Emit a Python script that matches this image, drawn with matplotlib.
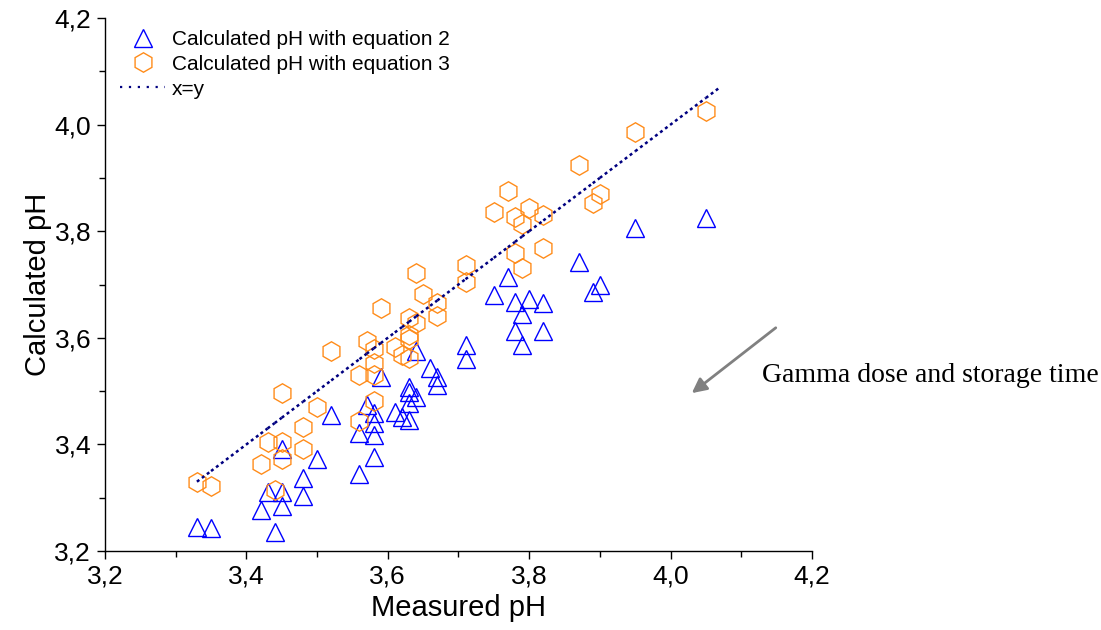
import matplotlib.pyplot as plt
from matplotlib.ticker import MultipleLocator

plt.rcParams['font.family'] = ['Liberation Sans', 'DejaVu Sans']

# equation 2 (triangles)
eq2_measured = [3.33, 3.35, 3.42, 3.43, 3.44, 3.45, 3.45, 3.45, 3.48, 3.48,
                3.50, 3.52, 3.56, 3.56, 3.57, 3.58, 3.58, 3.58, 3.58, 3.59,
                3.61, 3.62, 3.63, 3.63, 3.63, 3.63, 3.64, 3.64, 3.66, 3.67,
                3.67, 3.71, 3.71, 3.75, 3.77, 3.78, 3.78, 3.79, 3.79, 3.80,
                3.82, 3.82, 3.87, 3.89, 3.90, 3.95, 4.05]
eq2_calc = [3.245, 3.243, 3.277, 3.311, 3.236, 3.311, 3.284, 3.391, 3.337, 3.303,
            3.373, 3.455, 3.421, 3.344, 3.474, 3.459, 3.440, 3.418, 3.376, 3.526,
            3.461, 3.451, 3.446, 3.478, 3.498, 3.508, 3.489, 3.575, 3.543, 3.526,
            3.511, 3.587, 3.560, 3.680, 3.714, 3.667, 3.613, 3.645, 3.587, 3.673,
            3.665, 3.613, 3.742, 3.686, 3.700, 3.806, 3.825]

# equation 3 (hexagons)
eq3_measured = [3.33, 3.35, 3.42, 3.43, 3.44, 3.45, 3.45, 3.45, 3.48, 3.48,
                3.50, 3.52, 3.56, 3.56, 3.57, 3.58, 3.58, 3.58, 3.58, 3.59,
                3.61, 3.62, 3.63, 3.63, 3.63, 3.63, 3.64, 3.64, 3.65, 3.67,
                3.67, 3.71, 3.71, 3.75, 3.77, 3.78, 3.78, 3.79, 3.79, 3.80,
                3.82, 3.82, 3.87, 3.89, 3.90, 3.95, 4.05]
eq3_calc = [3.329, 3.322, 3.363, 3.404, 3.314, 3.496, 3.404, 3.373, 3.433, 3.391,
            3.470, 3.575, 3.530, 3.444, 3.594, 3.579, 3.553, 3.530, 3.482, 3.656,
            3.583, 3.568, 3.637, 3.605, 3.597, 3.562, 3.628, 3.722, 3.682, 3.665,
            3.641, 3.737, 3.705, 3.836, 3.875, 3.827, 3.759, 3.813, 3.731, 3.844,
            3.830, 3.768, 3.924, 3.853, 3.870, 3.987, 4.025]

# x=y line runs through the measured values, up to 4.07
line_x = sorted(set(eq2_measured)) + [4.07]

fig = plt.figure(figsize=(11.01, 6.30), dpi=100)
ax = fig.add_axes([0.0954, 0.1254, 0.642, 0.846])

ax.plot(eq2_measured, eq2_calc, linestyle='none', marker='^', markersize=13,
        markerfacecolor='none', markeredgecolor='#0000FF', markeredgewidth=1.0,
        label='Calculated pH with equation 2')
ax.plot(eq3_measured, eq3_calc, linestyle='none', marker='h', markersize=14,
        markerfacecolor='none', markeredgecolor='#FF8C1A', markeredgewidth=1.0,
        label='Calculated pH with equation 3')

# each piece is dotted on its own, so dots pile up where values are close
for i in range(len(line_x) - 1):
    seg = line_x[i:i + 2]
    ax.plot(seg, seg, linestyle=(0, (1.2, 1.3)), color='#000080', linewidth=1.8)
ax.plot([], [], linestyle=(0, (1, 3)), color='#000080', linewidth=1.6, label='x=y')

ax.set_xlim(3.2, 4.2)
ax.set_ylim(3.2, 4.2)
ax.xaxis.set_major_locator(MultipleLocator(0.2))
ax.yaxis.set_major_locator(MultipleLocator(0.2))
ax.xaxis.set_minor_locator(MultipleLocator(0.1))
ax.yaxis.set_minor_locator(MultipleLocator(0.1))
fmt = lambda v, p: ('%.1f' % v).replace('.', ',')
ax.xaxis.set_major_formatter(plt.FuncFormatter(fmt))
ax.yaxis.set_major_formatter(plt.FuncFormatter(fmt))
ax.tick_params(which='major', direction='out', length=6, width=1, labelsize=19, pad=4)
ax.tick_params(which='minor', direction='out', length=4, width=1)

for s in ['top', 'right']:
    ax.spines[s].set_visible(False)
for s in ['left', 'bottom']:
    ax.spines[s].set_linewidth(1.0)

ax.set_xlabel('Measured pH', fontsize=21, labelpad=4)
ax.set_ylabel('Calculated pH', fontsize=21, labelpad=2)

ax.legend(loc='upper left', bbox_to_anchor=(0.0, 1.005), frameon=False, fontsize=15,
          handlelength=2.2, handletextpad=0.3, labelspacing=0.28, borderaxespad=0.3)

ax.annotate('', xy=(4.027, 3.493), xytext=(4.152, 3.622),
            arrowprops=dict(arrowstyle='-|>', color='#808080', lw=2, mutation_scale=22),
            annotation_clip=False)
ax.text(4.129, 3.530, 'Gamma dose and storage time', fontsize=20,
        family=['Liberation Serif', 'DejaVu Serif'], va='center', ha='left')

fig.savefig('out.png', dpi=100)
